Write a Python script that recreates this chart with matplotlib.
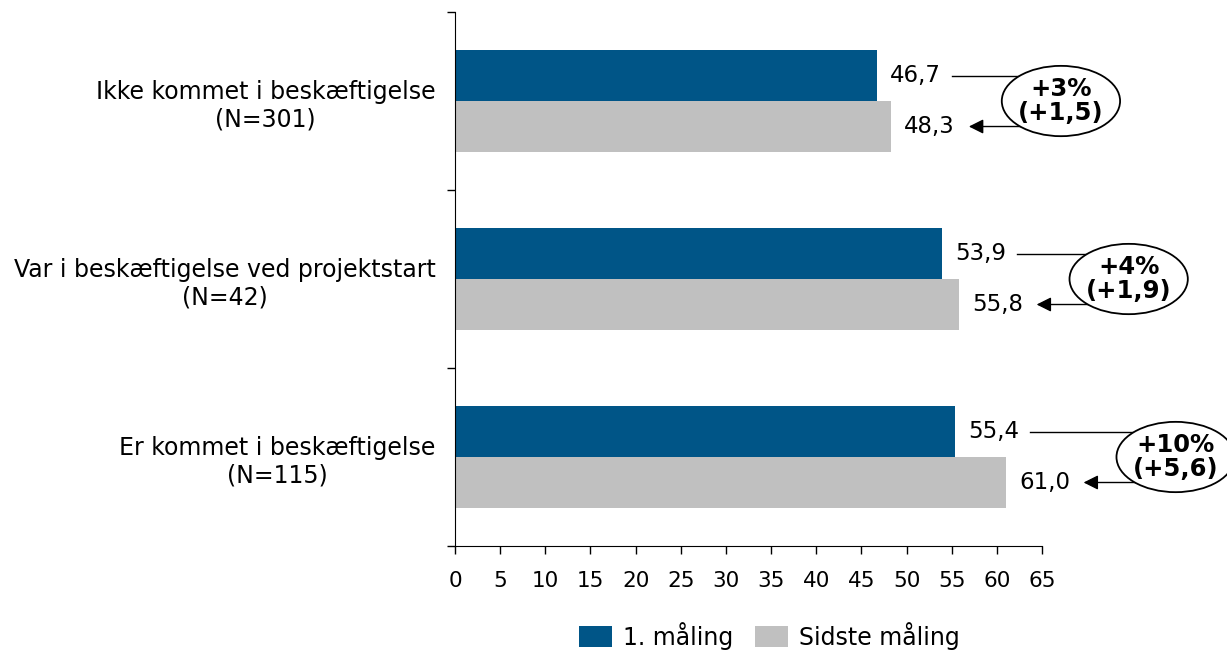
import matplotlib.pyplot as plt
from matplotlib.patches import Ellipse

# Data
categories = ['Ikke kommet i beskæftigelse\n(N=301)',
              'Var i beskæftigelse ved projektstart\n(N=42)',
              'Er kommet i beskæftigelse\n(N=115)']
first = [46.7, 53.9, 55.4]
last = [48.3, 55.8, 61.0]
change_pct = ['+3%', '+4%', '+10%']
change_abs = ['(+1,5)', '(+1,9)', '(+5,6)']
series_names = ['1. måling', 'Sidste måling']

dark = '#005587'
grey = '#C0C0C0'
plt.rcParams['font.family'] = ['DejaVu Sans']

fig = plt.figure(figsize=(12.27, 6.5), dpi=100)
ax = fig.add_axes([0.3708, 0.16, 0.4784, 0.8215])

h = 0.2865
n = len(categories)
for i in range(n):
    yc = n - i - 0.5  # first category on top
    ax.barh(yc + h / 2, first[i], height=h, color=dark, label=series_names[0] if i == 0 else None)
    ax.barh(yc - h / 2, last[i], height=h, color=grey, label=series_names[1] if i == 0 else None)
    ax.text(first[i] + 1.45, yc + h / 2, f'{first[i]:.1f}'.replace('.', ','), va='center', fontsize=16.5)
    ax.text(last[i] + 1.45, yc - h / 2, f'{last[i]:.1f}'.replace('.', ','), va='center', fontsize=16.5)

    ex = last[i] + 18.8
    # connecting line and arrow, hidden behind the ellipse
    ax.plot([first[i] + 8.3, ex], [yc + h / 2, yc + h / 2], color='black', lw=1, zorder=3, clip_on=False)
    ax.annotate('', xy=(last[i] + 8.3, yc - h / 2), xytext=(ex, yc - h / 2),
                arrowprops=dict(arrowstyle='-|>', color='black', lw=1, mutation_scale=22),
                zorder=3, annotation_clip=False)
    ell = Ellipse((ex, yc), width=13.1, height=0.395, facecolor='white', edgecolor='black',
                  lw=1.3, zorder=4, clip_on=False)
    ax.add_patch(ell)
    ax.text(ex, yc, change_pct[i] + '\n' + change_abs[i], ha='center', va='center',
            fontsize=17.5, fontweight='bold', zorder=5, linespacing=1.05)

ax.set_xlim(0, 65)
ax.set_ylim(0, n)
ax.set_xticks(range(0, 66, 5))
ax.set_yticks(range(0, n + 1))
ax.set_yticklabels([])
ax.set_yticks([n - i - 0.5 for i in range(n)], minor=True)
ax.set_yticklabels(categories, minor=True, fontsize=17)
for lbl in ax.get_yticklabels(minor=True):
    lbl.set_multialignment('center')
ax.tick_params(axis='y', which='minor', length=0, pad=14)
ax.tick_params(axis='y', which='major', length=6, width=1)
ax.tick_params(axis='x', length=6, width=1, labelsize=15.5, pad=12)
ax.spines['top'].set_visible(False)
ax.spines['right'].set_visible(False)

fig.legend(loc='center', bbox_to_anchor=(0.627, 0.022), ncol=2, frameon=False,
           fontsize=17, handlelength=1.4, handleheight=1.0, columnspacing=0.93, handletextpad=0.47,
           borderpad=0)

fig.savefig('out.png', dpi=100)
